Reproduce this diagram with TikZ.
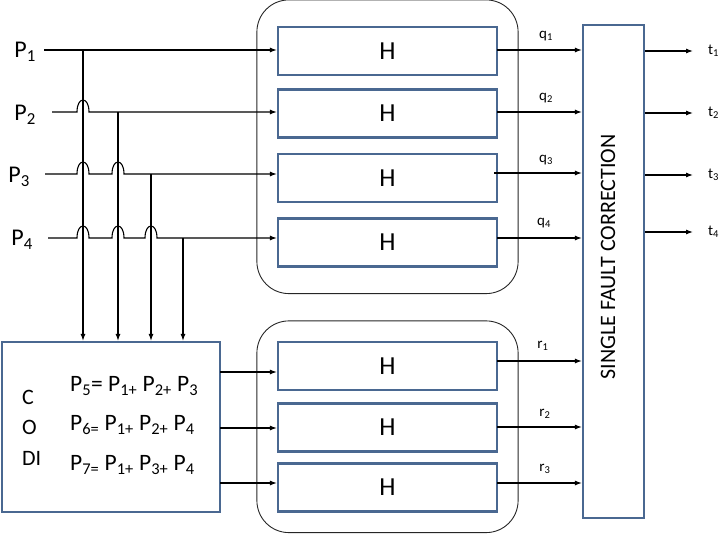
\documentclass[tikz,border=0pt]{standalone}
\usepackage{fontspec}
\setmainfont{Carlito}
\usetikzlibrary{arrows.meta,fit}

\definecolor{boxblue}{RGB}{74,104,145}
\tikzset{
  hbox/.style={draw=boxblue, line width=2.2pt, minimum width=219pt, minimum height=48pt,
    inner sep=0pt, font=\fontsize{26}{30}\selectfont},
  grp/.style={draw=black!85, line width=0.9pt, rounded corners=32pt, inner xsep=20pt},
  bigbox/.style={draw=boxblue, line width=2.2pt, inner sep=0pt},
  sig/.style={-{Latex[length=7pt,width=5pt]}, line width=1.1pt},
  plbl/.style={inner sep=0pt, font=\fontsize{24}{28}\selectfont},
  eq/.style={inner sep=0pt, font=\fontsize{23.5}{27}\selectfont},
  side/.style={inner sep=0pt, font=\fontsize{22}{26}\selectfont},
  lbl/.style={inner sep=0pt, font=\fontsize{15}{17}\selectfont},
}

\begin{document}
\begin{tikzpicture}[x=1pt,y=-1pt]
  \useasboundingbox (0,0) rectangle (721,535);

  % H blocks
  \node[hbox] (h1) at (387.5,51) {H};
  \node[hbox] (h2) at (387.5,113.5) {H};
  \node[hbox] (h3) at (387.5,178) {H};
  \node[hbox] (h4) at (387.5,242.5) {H};
  \node[hbox] (h5) at (387.5,366) {H};
  \node[hbox] (h6) at (387.5,427.5) {H};
  \node[hbox] (h7) at (387.5,487.5) {H};
  \node[grp, inner ysep=26pt, fit=(h1)(h4)] (upper) {};
  \node[grp, inner ysep=20pt, fit=(h5)(h7)] (lower) {};

  % coder and correction blocks
  \node[bigbox, minimum width=218pt, minimum height=170pt] (codi) at (111,427) {};
  \node[bigbox, minimum width=61pt, minimum height=493pt] (sfc) at (613.5,271.5) {};
  \node[side, rotate=90] (sfctxt) at (608,257) {SINGLE FAULT CORRECTION};

  \node[side, anchor=west] (c) at (22,397) {C};
  \node[side, anchor=west] (o) at (22,427) {O};
  \node[side, anchor=west] (di) at (22,458) {DI};
  \node[eq, anchor=west] (e5) at (70,386) {P\textsubscript{5}= P\textsubscript{1+} P\textsubscript{2+} P\textsubscript{3}};
  \node[eq, anchor=west] (e6) at (70,425) {P\textsubscript{6=} P\textsubscript{1+} P\textsubscript{2+} P\textsubscript{4}};
  \node[eq, anchor=west] (e7) at (70,465) {P\textsubscript{7=} P\textsubscript{1+} P\textsubscript{3+} P\textsubscript{4}};

  % inputs
  \node[plbl, anchor=east] (p1) at (36,52) {P\textsubscript{1}};
  \node[plbl, anchor=east] (p2) at (36,115) {P\textsubscript{2}};
  \node[plbl, anchor=east] (p3) at (30,177) {P\textsubscript{3}};
  \node[plbl, anchor=east] (p4) at (33,240) {P\textsubscript{4}};
  \coordinate (s1) at (44,50);
  \coordinate (s2) at (52,112);
  \coordinate (s3) at (45,174);
  \coordinate (s4) at (48,238);
  \coordinate (j1) at (83,50);
  \coordinate (j2) at (118,112);
  \coordinate (j3) at (151,174);
  \coordinate (j4) at (183,238);

  \draw[sig] (s1) -- (s1 -| h1.west);
  \draw[sig] (s2) -- (77,112) .. controls (77,96) and (89,96) .. (89,112) -- (s2 -| h2.west);
  \draw[sig] (s3) -- (77,174) .. controls (77,158) and (89,158) .. (89,174)
    -- (112,174) .. controls (112,158) and (124,158) .. (124,174) -- (s3 -| h3.west);
  \draw[sig] (s4) -- (77,238) .. controls (77,222) and (89,222) .. (89,238)
    -- (112,238) .. controls (112,222) and (124,222) .. (124,238)
    -- (145,238) .. controls (145,222) and (157,222) .. (157,238) -- (s4 -| h4.west);

  \draw[sig] (j1) -- (j1 |- codi.north);
  \draw[sig] (j2) -- (j2 |- codi.north);
  \draw[sig] (j3) -- (j3 |- codi.north);
  \draw[sig] (j4) -- (j4 |- codi.north);

  % parity into H
  \coordinate (c5) at (220,372);
  \coordinate (c6) at (220,428);
  \coordinate (c7) at (220,483);
  \draw[sig] (c5) -- (c5 -| h5.west);
  \draw[sig] (c6) -- (c6 -| h6.west);
  \draw[sig] (c7) -- (c7 -| h7.west);

  % H outputs
  \coordinate (o1) at (497,50);
  \coordinate (o2) at (497,112);
  \coordinate (o3) at (494,173);
  \coordinate (o4) at (497,238);
  \coordinate (o5) at (497,361);
  \coordinate (o6) at (497,427);
  \coordinate (o7) at (497,483);
  \draw[sig] (o1) -- (o1 -| sfc.west);
  \draw[sig] (o2) -- (o2 -| sfc.west);
  \draw[sig] (o3) -- (o3 -| sfc.west);
  \draw[sig] (o4) -- (o4 -| sfc.west);
  \draw[sig] (o5) -- (o5 -| sfc.west);
  \draw[sig] (o6) -- (o6 -| sfc.west);
  \draw[sig] (o7) -- (o7 -| sfc.west);
  \node[lbl] (q1) at (546,36) {q\textsubscript{1}};
  \node[lbl] (q2) at (546,98) {q\textsubscript{2}};
  \node[lbl] (q3) at (546,160) {q\textsubscript{3}};
  \node[lbl] (q4) at (544,223) {q\textsubscript{4}};
  \node[lbl] (r1) at (543,346) {r\textsubscript{1}};
  \node[lbl] (r2) at (545,414) {r\textsubscript{2}};
  \node[lbl] (r3) at (545,469) {r\textsubscript{3}};

  % corrected outputs
  \node[lbl, anchor=west] (t1) at (708,51) {t\textsubscript{1}};
  \node[lbl, anchor=west] (t2) at (708,113) {t\textsubscript{2}};
  \node[lbl, anchor=west] (t3) at (708,175) {t\textsubscript{3}};
  \node[lbl, anchor=west] (t4) at (708,232) {t\textsubscript{4}};
  \draw[sig] (sfc.east |- t1) -- ([xshift=-15pt]t1.west);
  \draw[sig] (sfc.east |- t2) -- ([xshift=-15pt]t2.west);
  \draw[sig] (sfc.east |- t3) -- ([xshift=-15pt]t3.west);
  \draw[sig] (sfc.east |- t4) -- ([xshift=-15pt]t4.west);
\end{tikzpicture}
\end{document}
